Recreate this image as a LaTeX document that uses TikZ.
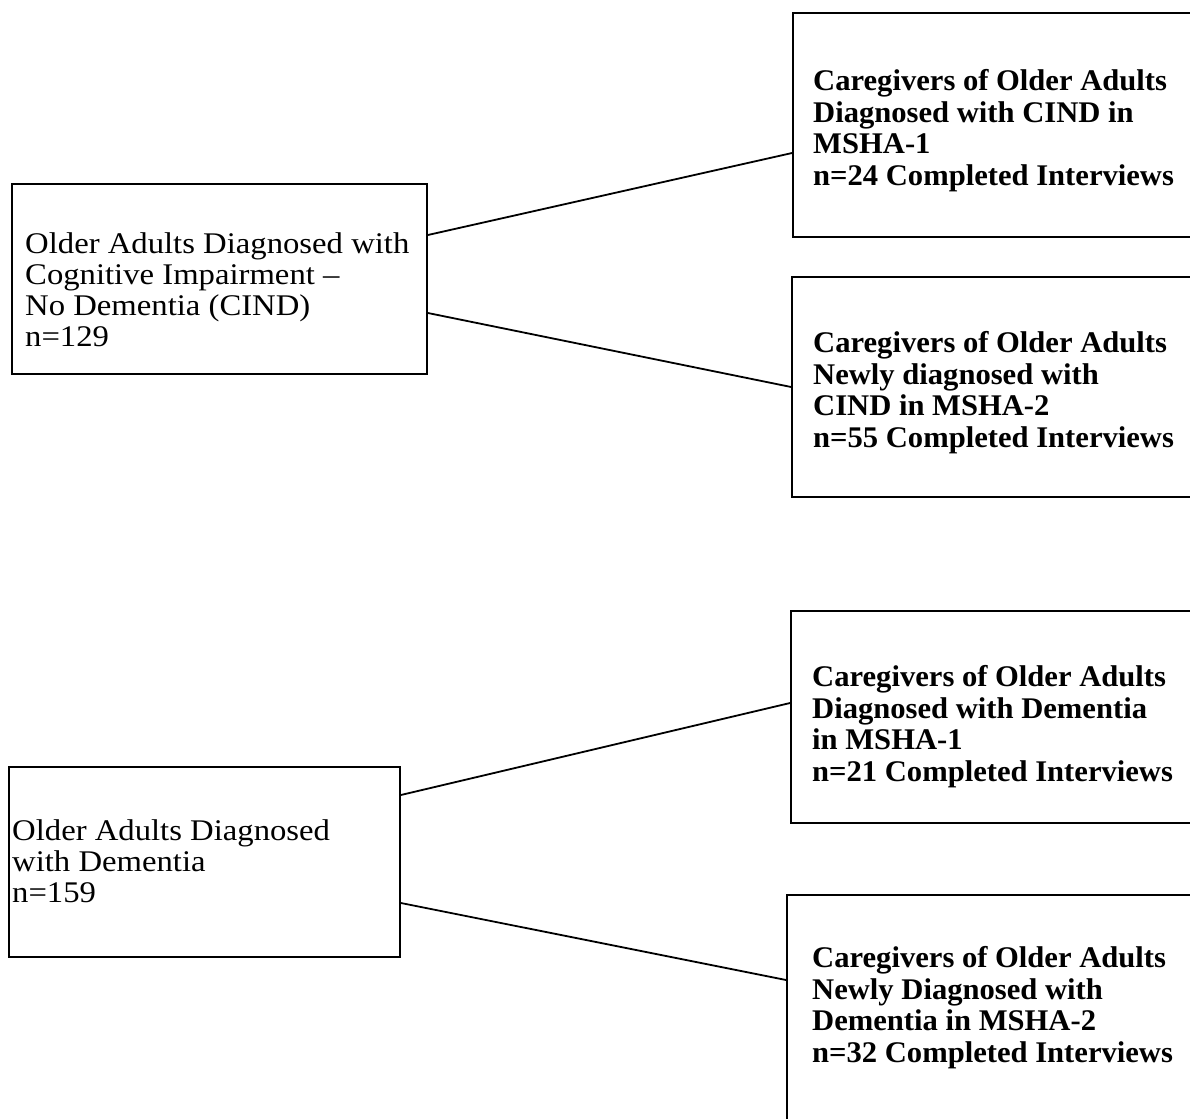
\documentclass[tikz,border=0pt]{standalone}
\usepackage{fontspec}
\setmainfont{Liberation Serif}[FakeStretch=1.09]
\newfontfamily\boldserif{Liberation Serif}[FakeStretch=1.02]
\begin{document}
\begin{tikzpicture}[x=1pt,y=-1pt,
  box/.style={draw=black, line width=1.8pt, rectangle, inner sep=0pt},
  link/.style={draw=black, line width=1.8pt},
  grouptext/.style={anchor=north west, inner sep=0pt, align=left,
    font=\fontsize{30}{31}\selectfont},
  carertext/.style={anchor=north west, inner sep=0pt, align=left,
    font=\boldserif\bfseries\fontsize{30}{31.5}\selectfont}]
\useasboundingbox (0,0) rectangle (1190,1118);
\clip (0,0) rectangle (1190,1118);

% patient groups (left column)
\node[box, minimum width=415pt, minimum height=190pt] (cind) at (219.5,279) {};
\node[box, minimum width=391pt, minimum height=190pt] (dem) at (204.5,862) {};

% caregiver groups (right column, running off the page edge)
\node[box, minimum width=407pt, minimum height=224pt] (cind1) at (996.5,125) {};
\node[box, minimum width=408pt, minimum height=220pt] (cind2) at (996,387) {};
\node[box, minimum width=409pt, minimum height=212pt] (dem1) at (995.5,717) {};
\node[box, minimum width=413pt, minimum height=235pt] (dem2) at (993.5,1012.5) {};

% box texts
\node[grouptext] (cindtxt) at (25,232) {Older Adults Diagnosed with\\Cognitive Impairment --\\No Dementia (CIND)\\n=129};
\node[grouptext] (demtxt) at (12,819.5) {Older Adults Diagnosed\\with Dementia\\n=159};
\node[carertext] (cind1txt) at (813,69.5) {Caregivers of Older Adults\\Diagnosed with CIND in\\MSHA-1\\n=24 Completed Interviews};
\node[carertext] (cind2txt) at (813,331.5) {Caregivers of Older Adults\\Newly diagnosed with\\CIND in MSHA-2\\n=55 Completed Interviews};
\node[carertext] (dem1txt) at (812,665.5) {Caregivers of Older Adults\\Diagnosed with Dementia\\in MSHA-1\\n=21 Completed Interviews};
\node[carertext] (dem2txt) at (812,946.5) {Caregivers of Older Adults\\Newly Diagnosed with\\Dementia in MSHA-2\\n=32 Completed Interviews};

% connectors
\draw[link] ([yshift=44pt]cind.east) -- ([yshift=-28pt]cind1.west);
\draw[link] ([yshift=-34pt]cind.east) -- (cind2.west);
\draw[link] ([yshift=67pt]dem.east) -- ([yshift=14pt]dem1.west);
\draw[link] ([yshift=-41pt]dem.east) -- ([yshift=32.5pt]dem2.west);
\end{tikzpicture}
\end{document}
